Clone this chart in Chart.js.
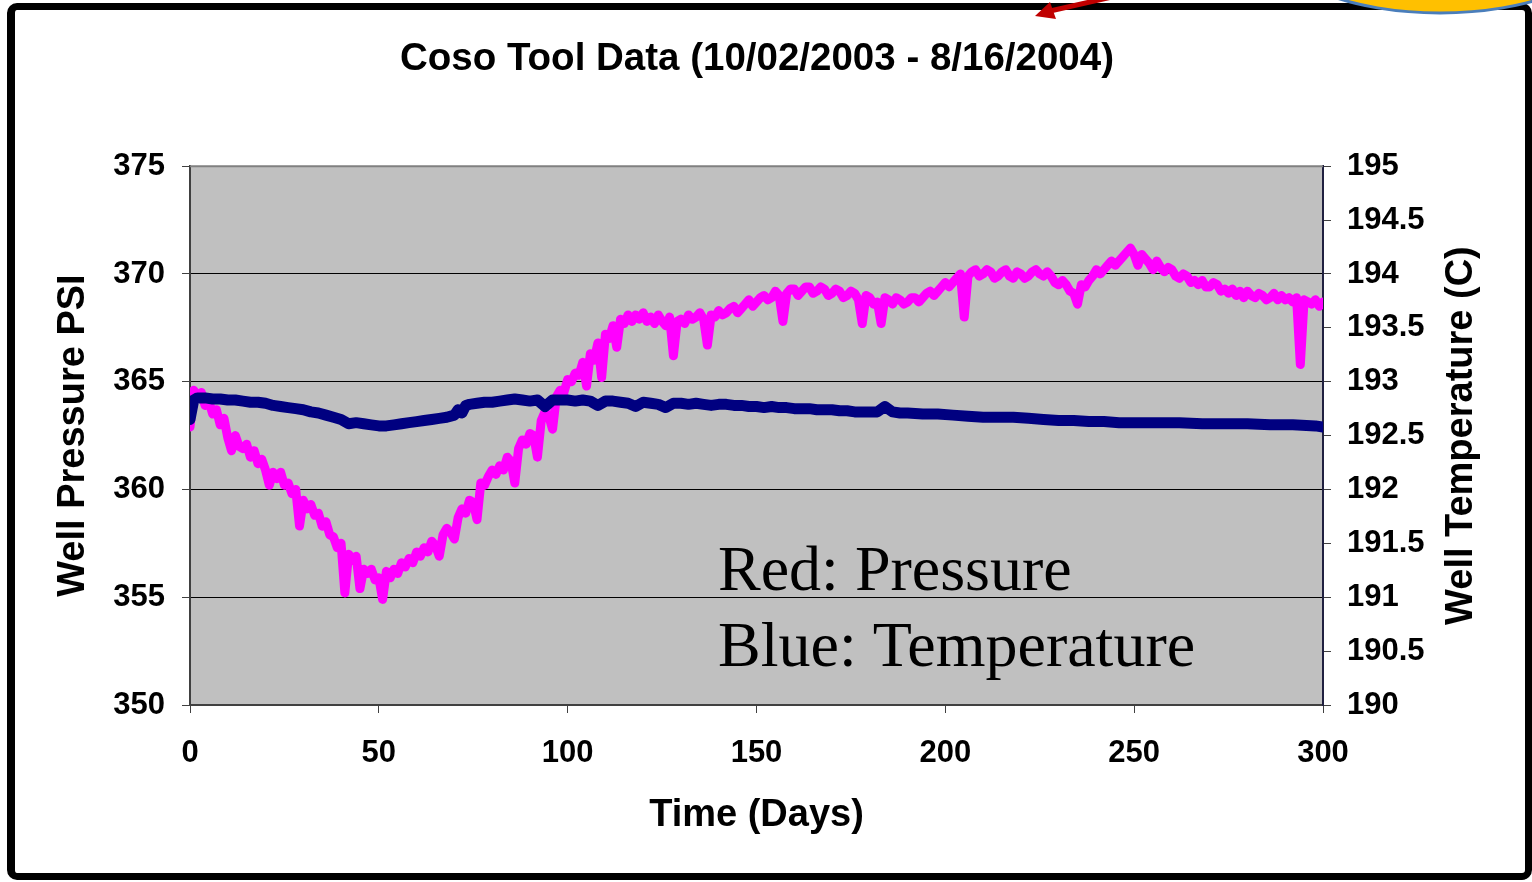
<!DOCTYPE html>
<html>
<head>
<meta charset="utf-8">
<title>Coso Tool Data</title>
<script src="https://cdn.jsdelivr.net/npm/chart.js@4.4.1/dist/chart.umd.min.js"></script>
<style>
  html, body { margin: 0; padding: 0; background: #fff; }
  #wrap { position: relative; width: 1532px; height: 882px; overflow: hidden; }
  #cosoChart { position: absolute; left: 0; top: 0; }
  .frame {
    position: absolute; left: 7px; top: 3px; width: 1525px; height: 877px;
    box-sizing: border-box; border: 7px solid #000; border-left-width: 8px;
    border-radius: 10px; pointer-events: none;
  }
  svg.deco { position: absolute; left: 0; top: 0; pointer-events: none; }
</style>
</head>
<body>
<div id="wrap">
  <canvas id="cosoChart" width="1532" height="882"></canvas>
  <div class="frame"></div>
  <svg class="deco" width="1532" height="882">
    <ellipse cx="1440" cy="-60" rx="170" ry="73" fill="#FFC000" stroke="#4A7EBB" stroke-width="3"/>
    <line x1="1112" y1="-3" x2="1050" y2="11" stroke="#C00000" stroke-width="5"/>
    <polygon points="1035,16 1050,2 1056,19" fill="#C00000"/>
  </svg>
</div>
<script>
// tick labels
const dayTicks = [0, 50, 100, 150, 200, 250, 300];
const psiTicks = [350, 355, 360, 365, 370, 375];
const tempTicks = [190, 190.5, 191, 191.5, 192, 192.5, 193, 193.5, 194, 194.5, 195];

// well pressure (psi), one reading per day, days 0..300
const pressurePsi = [
  362.9, 364.6, 364.3, 364.5, 363.9, 364.1, 363.5, 363.7, 363.0, 363.3,
  362.4, 361.8, 362.5, 362.0, 361.9, 362.1, 361.5, 361.8, 361.2, 361.4,
  360.9, 360.2, 360.8, 360.5, 360.8, 360.2, 360.3, 359.8, 360.0, 358.3,
  359.5, 359.1, 359.3, 358.8, 358.9, 358.3, 358.5, 357.9, 357.8, 357.3,
  357.5, 355.2, 357.0, 356.7, 356.9, 355.4, 356.3, 356.1, 356.3, 355.8,
  355.9, 354.9, 356.2, 355.9, 356.3, 356.1, 356.6, 356.4, 356.8, 356.6,
  357.1, 356.9, 357.3, 357.1, 357.6, 357.4, 356.9, 357.9, 358.2, 358.0,
  357.7, 358.7, 359.1, 358.9, 359.5, 359.4, 358.6, 360.3, 360.2, 360.6,
  360.9, 360.7, 361.1, 360.9, 361.5, 361.3, 360.3, 361.9, 362.3, 362.1,
  362.6, 362.5, 361.5, 363.2, 363.6, 363.4, 362.8, 364.3, 364.6, 364.5,
  365.1, 365.0, 365.4, 365.3, 365.9, 364.8, 366.3, 366.0, 366.8, 365.2,
  367.2, 367.0, 367.6, 366.6, 367.9, 367.7, 368.1, 367.8, 368.1, 367.9,
  368.2, 367.8, 368.0, 367.7, 368.1, 367.8, 367.6, 368.0, 366.2, 367.8,
  367.9, 367.7, 368.1, 367.9, 368.0, 368.2, 367.9, 366.7, 368.1, 368.0,
  368.3, 368.1, 368.2, 368.4, 368.5, 368.2, 368.4, 368.6, 368.8, 368.5,
  368.7, 368.9, 369.0, 368.8, 368.9, 369.2, 369.0, 367.8, 369.1, 369.3,
  369.3, 369.0, 369.2, 369.4, 369.4, 369.1, 369.2, 369.4, 369.3, 369.0,
  369.1, 369.3, 369.2, 368.9, 369.0, 369.2, 369.1, 368.8, 367.7, 369.0,
  368.9, 368.6, 368.7, 367.7, 368.9, 368.8, 368.6, 368.9, 368.8, 368.6,
  368.7, 368.9, 368.9, 368.7, 368.9, 369.1, 369.2, 369.0, 369.2, 369.4,
  369.6, 369.4, 369.6, 369.8, 370.0, 368.0, 369.9, 370.1, 370.2, 369.9,
  370.0, 370.2, 370.1, 369.8, 369.9, 370.1, 370.2, 369.9, 369.8, 370.1,
  370.0, 369.8, 369.9, 370.1, 370.2, 370.0, 369.9, 370.1, 369.9, 369.6,
  369.5, 369.7, 369.5, 369.2, 369.1, 368.6, 369.5, 369.4, 369.7, 369.9,
  370.2, 370.0, 370.2, 370.4, 370.6, 370.4, 370.6, 370.8, 371.0, 371.2,
  370.9, 370.4, 370.9, 370.7, 370.5, 370.2, 370.6, 370.3, 370.1, 370.3,
  370.2, 369.9, 369.8, 370.0, 369.9, 369.6, 369.7, 369.5, 369.7, 369.4,
  369.4, 369.6, 369.5, 369.2, 369.3, 369.1, 369.3, 369.0, 369.2, 368.9,
  369.2, 369.0, 368.9, 369.1, 369.0, 368.8, 368.9, 369.1, 368.8, 369.0,
  368.8, 368.9, 368.7, 368.9, 365.8, 368.8, 368.7, 368.6, 368.8, 368.5,
  368.7
];
const pressureDays = pressurePsi.map((v, i) => i);

// well temperature (C)
const temperatureDays = [
  0, 1, 2, 4, 6, 8, 10, 12, 14, 16,
  18, 20, 22, 24, 26, 28, 30, 32, 34, 36,
  38, 40, 42, 44, 46, 48, 50, 52, 54, 56,
  58, 60, 62, 64, 66, 68, 70, 71, 72, 73,
  74, 76, 78, 80, 82, 84, 86, 88, 90, 92,
  94, 96, 98, 100, 102, 104, 106, 108, 110, 112,
  114, 116, 118, 120, 122, 124, 126, 128, 130, 132,
  134, 136, 138, 140, 142, 144, 146, 148, 150, 152,
  154, 156, 158, 160, 162, 164, 166, 168, 170, 172,
  174, 176, 178, 180, 182, 184, 186, 188, 190, 194,
  198, 202, 206, 210, 214, 218, 222, 226, 230, 234,
  238, 242, 246, 250, 256, 262, 268, 274, 280, 286,
  292, 298, 300
];
const temperatureC = [
  192.65, 192.83, 192.85, 192.85, 192.84, 192.84, 192.83, 192.83, 192.82, 192.81,
  192.81, 192.80, 192.78, 192.77, 192.76, 192.75, 192.74, 192.72, 192.71, 192.69,
  192.67, 192.65, 192.61, 192.62, 192.61, 192.60, 192.59, 192.59, 192.60, 192.61,
  192.62, 192.63, 192.64, 192.65, 192.66, 192.67, 192.69, 192.74, 192.71, 192.78,
  192.79, 192.80, 192.81, 192.81, 192.82, 192.83, 192.84, 192.83, 192.82, 192.83,
  192.77, 192.83, 192.83, 192.83, 192.82, 192.83, 192.82, 192.78, 192.82, 192.82,
  192.81, 192.80, 192.77, 192.81, 192.80, 192.79, 192.76, 192.80, 192.80, 192.79,
  192.80, 192.79, 192.78, 192.79, 192.79, 192.78, 192.78, 192.77, 192.77, 192.76,
  192.77, 192.76, 192.76, 192.75, 192.75, 192.75, 192.74, 192.74, 192.74, 192.73,
  192.73, 192.72, 192.72, 192.72, 192.72, 192.77, 192.72, 192.71, 192.71, 192.70,
  192.70, 192.69, 192.68, 192.67, 192.67, 192.67, 192.66, 192.65, 192.64, 192.64,
  192.63, 192.63, 192.62, 192.62, 192.62, 192.62, 192.61, 192.61, 192.61, 192.60,
  192.60, 192.59, 192.58
];

const FONT = '"Liberation Sans", Arial, sans-serif';
Chart.defaults.font.family = FONT;
Chart.defaults.color = '#000';

const toPoints = (xs, ys) => xs.map((x, i) => ({ x: x, y: ys[i] }));
const fixedTicks = (list) => (scale) => { scale.ticks = list.map(v => ({ value: v })); };

// grey plot area + notes + right title
const decorPlugin = {
  id: 'decor',
  beforeDraw(chart) {
    const { ctx, chartArea: a } = chart;
    ctx.save();
    ctx.fillStyle = '#C0C0C0';
    ctx.fillRect(a.left, a.top, a.right - a.left, a.bottom - a.top);
    ctx.restore();
  },
  afterDraw(chart) {
    const { ctx, chartArea: a } = chart;
    ctx.save();
    ctx.strokeStyle = '#808080';
    ctx.lineWidth = 2;
    ctx.beginPath();
    ctx.moveTo(a.left, a.top);
    ctx.lineTo(a.right, a.top);
    ctx.stroke();

    ctx.fillStyle = '#000';
    ctx.font = '64px "Liberation Serif", "Times New Roman", serif';
    ctx.textAlign = 'left';
    ctx.textBaseline = 'alphabetic';
    ctx.fillText('Red: Pressure', 718, 590);
    ctx.fillText('Blue: Temperature', 718, 666);

    ctx.font = 'bold 38px ' + FONT;
    ctx.translate(1462, (a.top + a.bottom) / 2);
    ctx.rotate(-Math.PI / 2);
    ctx.textAlign = 'center';
    ctx.textBaseline = 'middle';
    ctx.fillText('Well Temperature (C)', 0, 0);
    ctx.restore();
  }
};

new Chart(document.getElementById('cosoChart'), {
  type: 'line',
  data: {
    datasets: [{
      label: 'Temperature',
      data: toPoints(temperatureDays, temperatureC),
      yAxisID: 'y2',
      borderColor: '#000080',
      borderWidth: 11,
      pointRadius: 0,
      borderCapStyle: 'round',
      borderJoinStyle: 'round',
      order: 0
    }, {
      label: 'Pressure',
      data: toPoints(pressureDays, pressurePsi),
      yAxisID: 'y',
      borderColor: '#FF00FF',
      borderWidth: 9,
      pointRadius: 0,
      borderCapStyle: 'round',
      borderJoinStyle: 'round',
      order: 1
    }]
  },
  options: {
    responsive: false,
    animation: false,
    layout: { padding: { left: 0, top: 0, bottom: 0, right: 18 } },
    plugins: {
      legend: { display: false },
      tooltip: { enabled: false },
      title: {
        display: true,
        text: 'Coso Tool Data (10/02/2003 - 8/16/2004)',
        font: { size: 38.5, weight: 'bold' },
        color: '#000',
        padding: { top: 36, bottom: 84 }
      }
    },
    scales: {
      x: {
        type: 'linear',
        min: 0,
        max: 300,
        afterBuildTicks: fixedTicks(dayTicks),
        afterFit: (s) => { s.height = 177; },
        ticks: { font: { size: 31, weight: 'bold' }, color: '#000', padding: 22, maxRotation: 0 },
        grid: { drawOnChartArea: false, drawTicks: true, tickLength: 8, tickColor: '#404040' },
        border: { color: '#404040', width: 2 },
        title: {
          display: true,
          text: 'Time (Days)',
          font: { size: 38, weight: 'bold' },
          color: '#000',
          padding: { top: 0, bottom: 44 }
        }
      },
      y: {
        position: 'left',
        min: 350,
        max: 375,
        afterBuildTicks: fixedTicks(psiTicks),
        afterFit: (s) => { s.width = 190; },
        ticks: { font: { size: 31, weight: 'bold' }, color: '#000', padding: 17, callback: (v) => String(v) },
        grid: {
          color: (c) => (c.tick && c.tick.value === 375 ? '#808080' : '#000'),
          lineWidth: 1,
          tickLength: 8,
          tickColor: '#404040'
        },
        border: { color: '#404040', width: 2 },
        title: {
          display: true,
          text: 'Well Pressure PSI',
          font: { size: 38, weight: 'bold' },
          color: '#000',
          padding: { top: 51, bottom: 0 }
        }
      },
      y2: {
        position: 'right',
        min: 190,
        max: 195,
        afterBuildTicks: fixedTicks(tempTicks),
        afterFit: (s) => { s.width = 191; },
        ticks: { font: { size: 31, weight: 'bold' }, color: '#000', padding: 16, callback: (v) => String(v) },
        grid: { drawOnChartArea: false, tickLength: 8, tickColor: '#404040' },
        border: { color: '#202040', width: 2 }
      }
    }
  },
  plugins: [decorPlugin]
});
</script>
</body>
</html>
